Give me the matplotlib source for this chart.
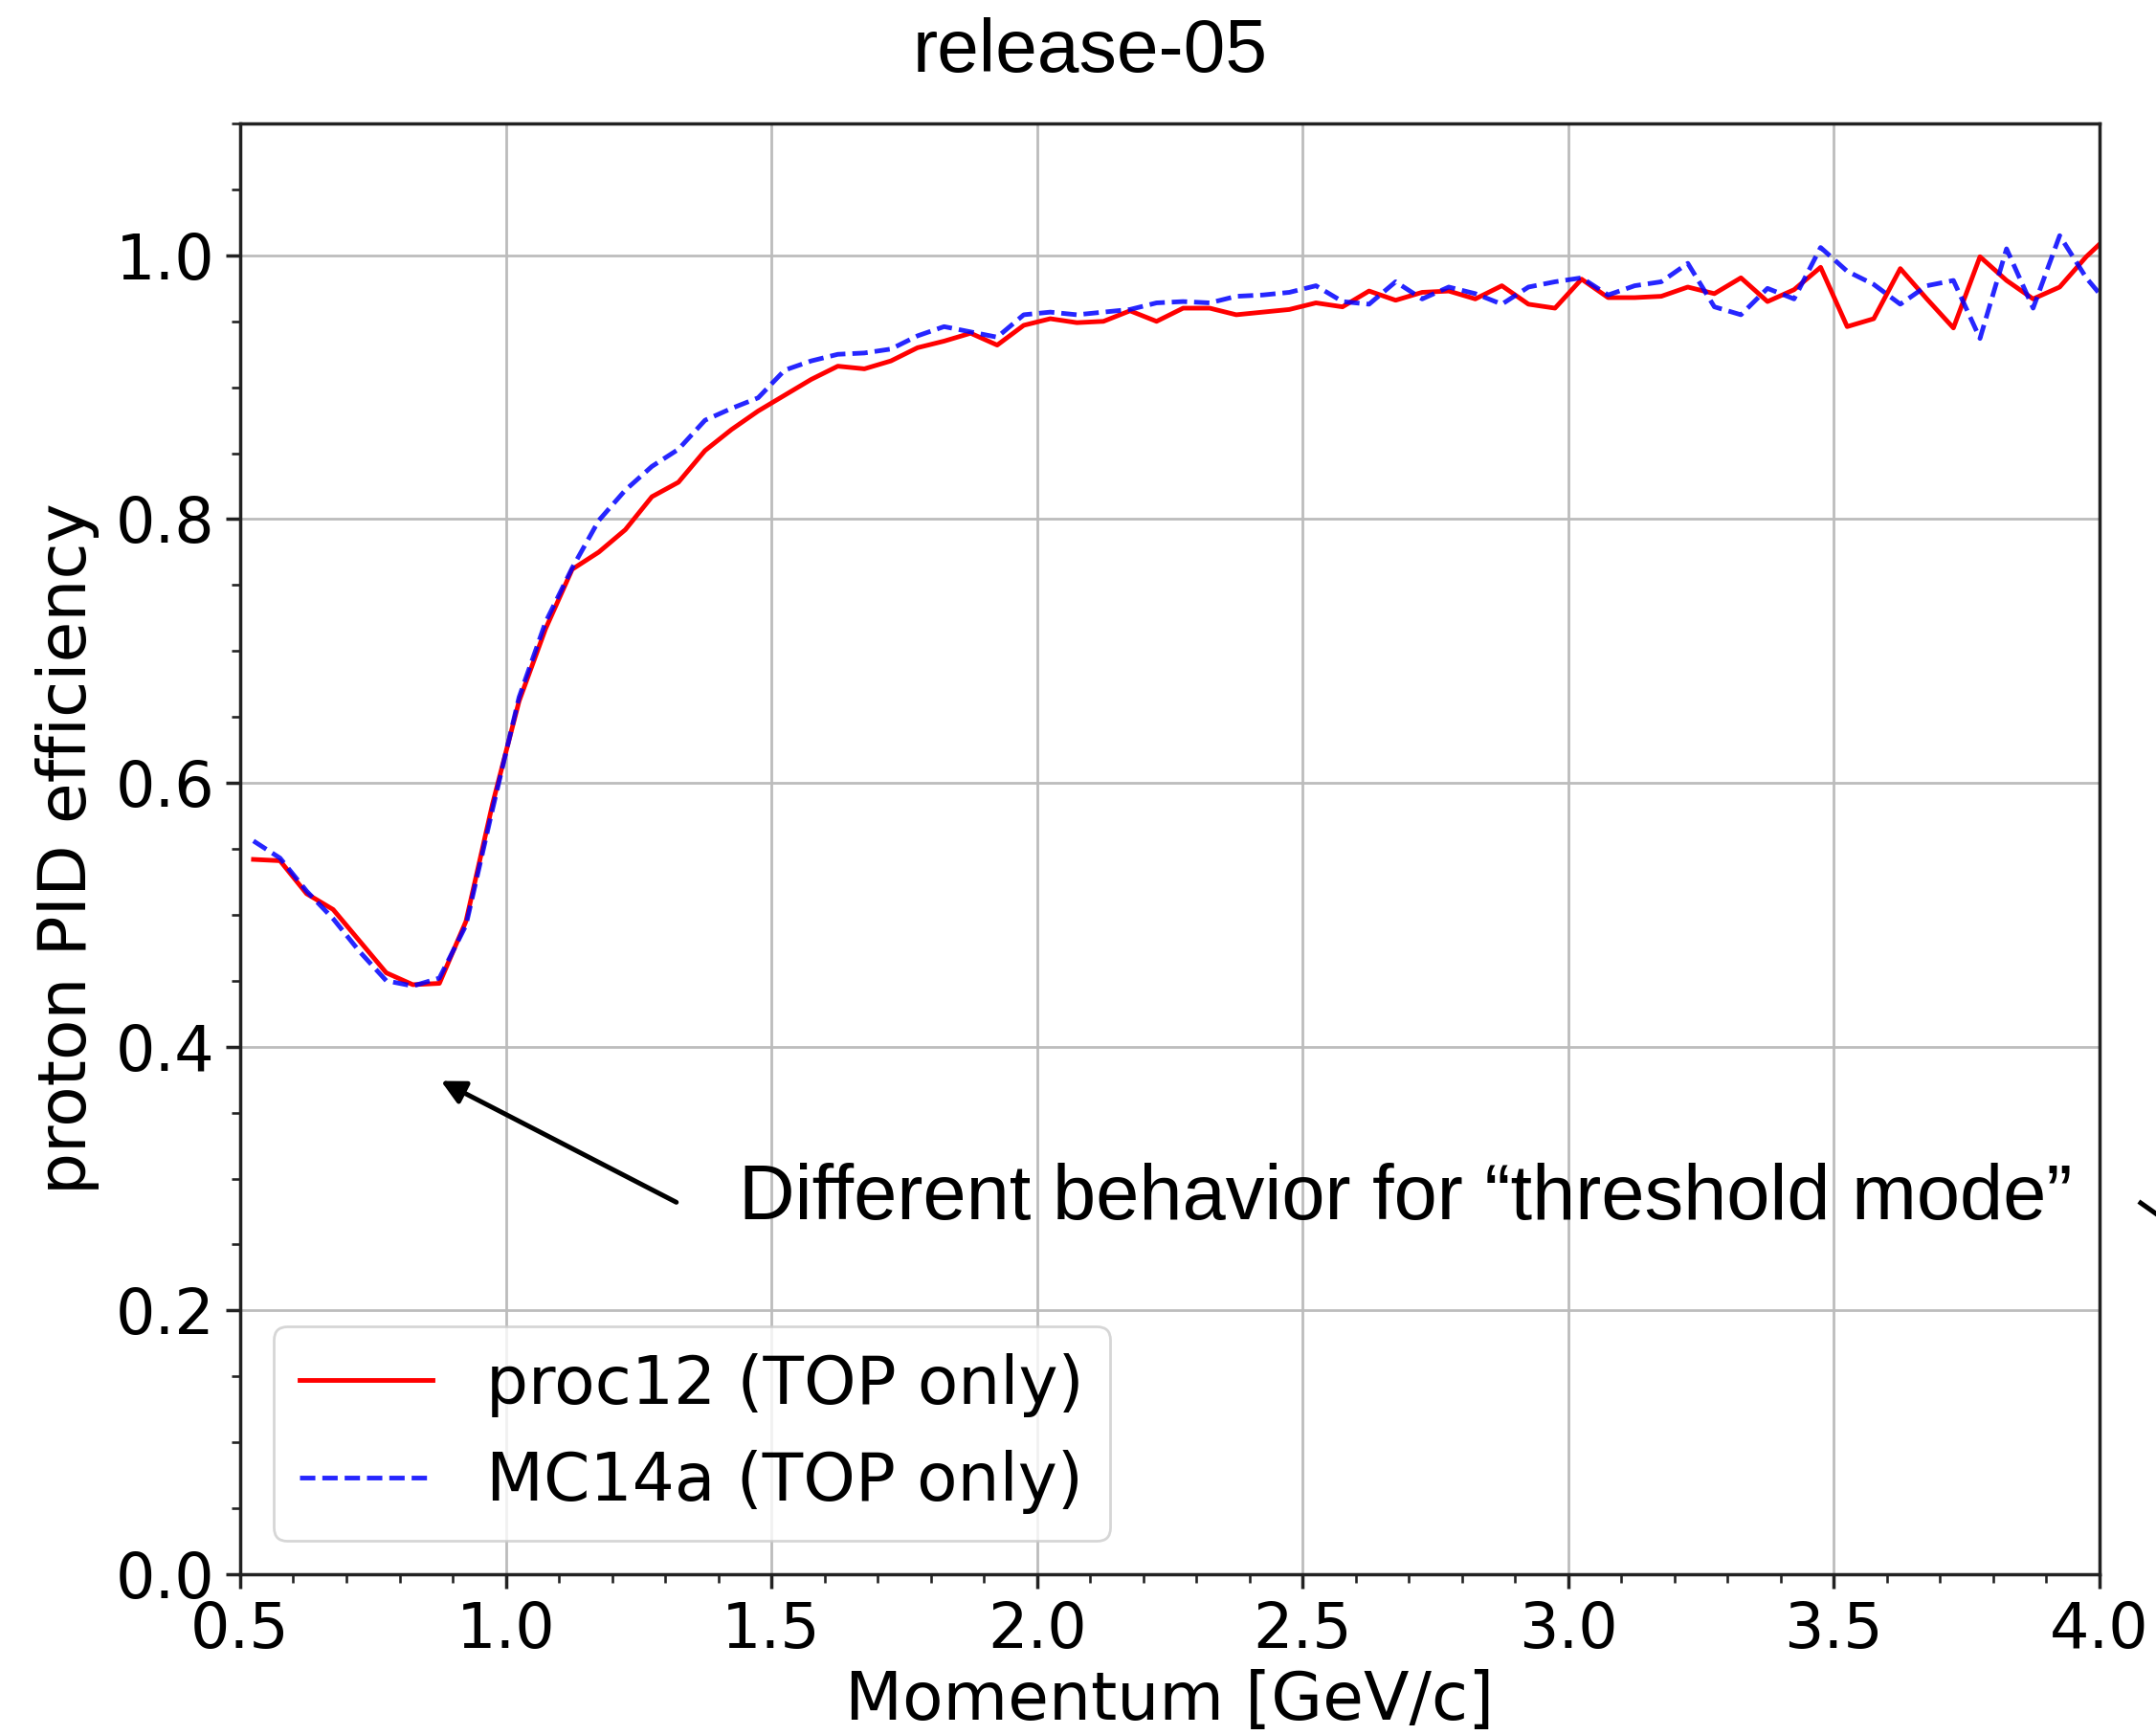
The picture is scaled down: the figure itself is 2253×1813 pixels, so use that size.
import numpy as np
import matplotlib
matplotlib.use("Agg")
import matplotlib.pyplot as plt
from matplotlib.ticker import MultipleLocator
from matplotlib.lines import Line2D

# Bin centres of the momentum histogram [GeV/c] (last one lies past the axis edge)
momentum = np.round(np.arange(0.525, 4.03, 0.05), 3)

# proton PID efficiency, proc12 (TOP only)
eff_proc12 = [
    0.542, 0.541, 0.516, 0.504, 0.480, 0.456, 0.447, 0.448, 0.495, 0.584,
    0.662, 0.717, 0.762, 0.775, 0.792, 0.817, 0.828, 0.852, 0.868, 0.882,
    0.894, 0.906, 0.916, 0.914, 0.920, 0.930, 0.935, 0.941, 0.932, 0.947,
    0.952, 0.949, 0.950, 0.958, 0.950, 0.960, 0.960, 0.955, 0.957, 0.959,
    0.964, 0.961, 0.973, 0.966, 0.972, 0.973, 0.967, 0.977, 0.963, 0.960,
    0.982, 0.968, 0.968, 0.969, 0.976, 0.971, 0.983, 0.965, 0.974, 0.991,
    0.946, 0.952, 0.990, 0.967, 0.945, 0.999, 0.981, 0.967, 0.976, 0.999,
    1.018,
]

# proton PID efficiency, MC14a (TOP only)
eff_mc14a = [
    0.556, 0.543, 0.518, 0.497, 0.472, 0.450, 0.446, 0.452, 0.492, 0.580,
    0.665, 0.722, 0.763, 0.799, 0.822, 0.840, 0.853, 0.875, 0.884, 0.892,
    0.913, 0.920, 0.925, 0.926, 0.929, 0.939, 0.946, 0.942, 0.938, 0.955,
    0.957, 0.955, 0.957, 0.959, 0.964, 0.965, 0.964, 0.969, 0.970, 0.972,
    0.977, 0.965, 0.963, 0.980, 0.967, 0.976, 0.971, 0.963, 0.976, 0.980,
    0.983, 0.970, 0.977, 0.980, 0.994, 0.961, 0.955, 0.975, 0.967, 1.006,
    0.988, 0.978, 0.963, 0.977, 0.981, 0.937, 1.005, 0.960, 1.015, 0.983,
    0.959,
]

TITLE = "release-05"
NOTE = "Different behavior for \u201cthreshold mode\u201d"

S = 3.14  # scale of the original default-style plot

plt.rcParams['font.family'] = ['DejaVu Sans']

fig = plt.figure(figsize=(22.53, 18.13), dpi=100)
ax = fig.add_axes([0.1114, 0.0927, 0.8624, 0.8361])

ax.plot(momentum, eff_proc12, color='red', linestyle='-', linewidth=3.5,
        label='proc12 (TOP only)')
ax.plot(momentum, eff_mc14a, color='blue', linestyle='--', linewidth=3.5,
        alpha=0.85, dashes=(3.3, 1.5), label='MC14a (TOP only)')

ax.set_xlim(0.5, 4.0)
ax.set_ylim(0.0, 1.1)
ax.xaxis.set_major_locator(MultipleLocator(0.5))
ax.xaxis.set_minor_locator(MultipleLocator(0.1))
ax.yaxis.set_major_locator(MultipleLocator(0.2))
ax.yaxis.set_minor_locator(MultipleLocator(0.05))

ax.grid(True, which='major', color='#bcbcbc', linewidth=2.0)
ax.set_axisbelow(True)

ax.tick_params(axis='both', which='major', labelsize=47, length=3.5 * S,
               width=0.8 * S, pad=2.6 * S, color='#222222')
ax.tick_params(axis='both', which='minor', length=2.0 * S, width=0.6 * S,
               color='#222222')
for sp in ax.spines.values():
    sp.set_linewidth(0.8 * S)
    sp.set_color('#222222')

ax.set_xlabel('Momentum [GeV/c]', fontsize=50, labelpad=6)
ax.set_ylabel('proton PID efficiency', fontsize=50, labelpad=12)

leg = ax.legend(loc='lower left', fontsize=50, framealpha=0.8)
leg.get_frame().set_linewidth(2.0)

# slide annotations
fig.text(0.5055, 0.9697, TITLE, ha='center', va='center', fontsize=56.5,
         family=['Liberation Sans', 'DejaVu Sans'])
fig.text(0.3427, 0.3089, NOTE, ha='left', va='center', fontsize=58.5,
         family=['Liberation Sans', 'DejaVu Sans'])
ax.annotate('', xy=(0.878, 0.374), xytext=(1.321, 0.282),
            arrowprops=dict(arrowstyle='-|>,head_length=0.75,head_width=0.38',
                            mutation_scale=20, lw=3.6, color='black',
                            shrinkA=0, shrinkB=0))
fig.add_artist(Line2D([2237 / 2253, 1.02], [1 - 1257 / 1813, 1 - 1300 / 1813],
                      transform=fig.transFigure, color='black', lw=3.6))

fig.savefig('out.png', dpi=100)
